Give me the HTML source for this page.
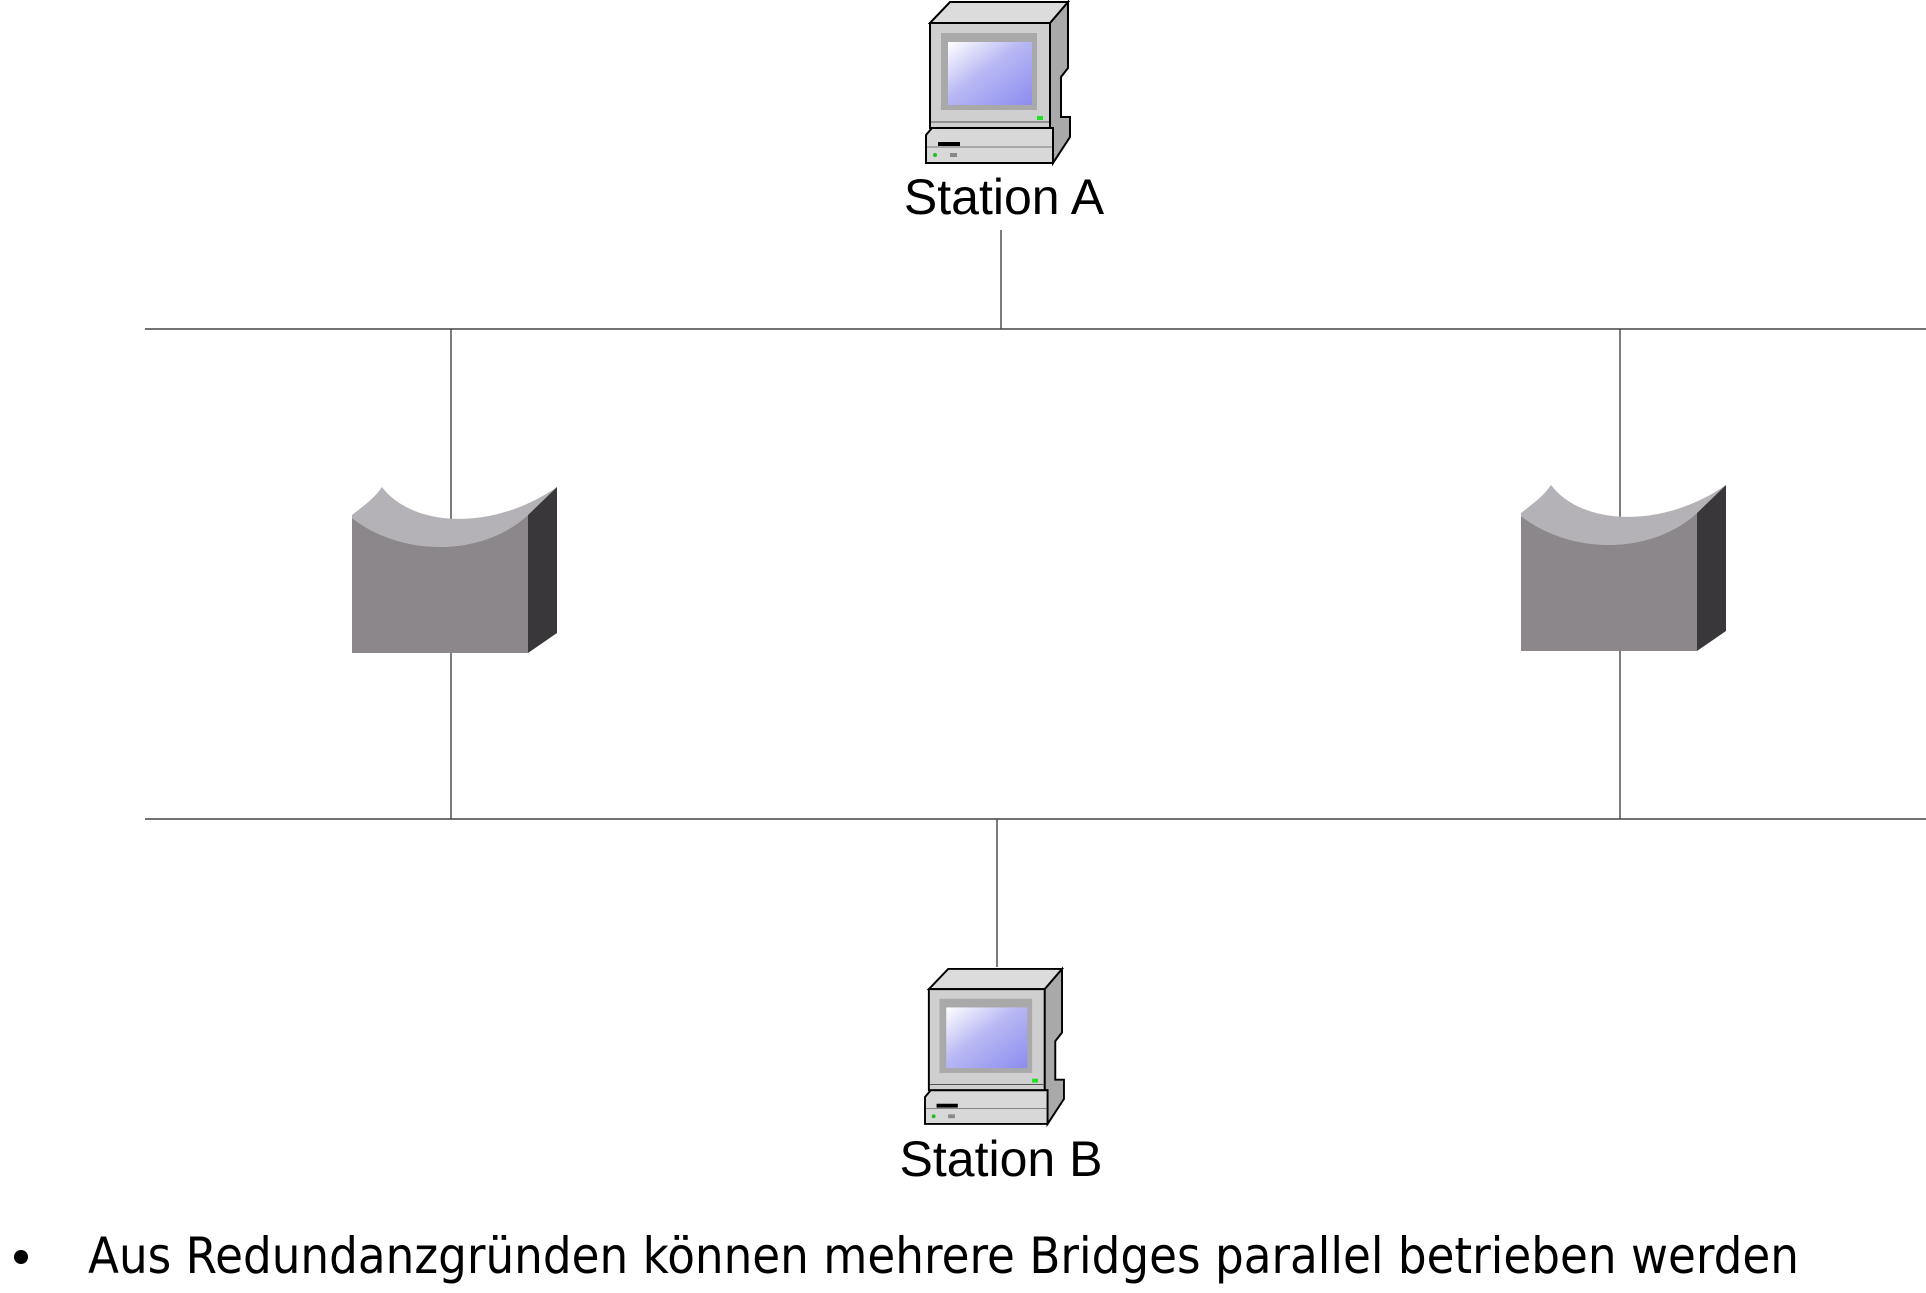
<!DOCTYPE html>
<html><head><meta charset="utf-8"><style>
html,body{margin:0;padding:0;background:#fff;}
svg{display:block;}
</style></head><body>
<svg width="1926" height="1293" viewBox="0 0 1926 1293" xmlns="http://www.w3.org/2000/svg">
<defs>
<linearGradient id="scr" x1="0" y1="0" x2="1" y2="1">
<stop offset="0" stop-color="#ffffff"/><stop offset="0.45" stop-color="#b8b8f4"/><stop offset="1" stop-color="#8c8cf0"/>
</linearGradient>
<g id="pc">
<path d="M124,23 L142,2 L142,68 L135,77 L135,117 L144,117 L144,137 L127,163 L127,128 L124,128 Z" fill="#a9a9a9" stroke="#000" stroke-width="2"/>
<path d="M4,23 L24,2 L142,2 L124,23 Z" fill="#dcdcdc" stroke="#000" stroke-width="2"/>
<rect x="4" y="23" width="120" height="105" fill="#cfcfcf" stroke="#000" stroke-width="2"/>
<rect x="15" y="33" width="96" height="77" fill="#a9a9a9"/>
<rect x="22" y="42" width="84" height="63" fill="url(#scr)"/>
<rect x="111" y="116" width="6" height="4" fill="#20e020"/>
<line x1="5" y1="122" x2="123" y2="122" stroke="#555" stroke-width="1"/>
<path d="M0,135 L6,128 L127,128 L127,163 L0,163 Z" fill="#d8d8d8" stroke="#000" stroke-width="2"/>
<rect x="12" y="142" width="22" height="4" fill="#000"/>
<line x1="1" y1="147" x2="126" y2="147" stroke="#777" stroke-width="1"/>
<circle cx="9" cy="155" r="2" fill="#20c020"/>
<rect x="24" y="153" width="7" height="4" fill="#888"/>
</g>
<g id="bridge">
<path d="M0,31 L0,28 C10,20 22,12 30,0 C60,40 140,45 205,0 L176,28 C130,70 50,70 0,31 Z" fill="#b4b2b6"/>
<path d="M0,31 C50,70 130,70 176,28 L176,166 L0,166 Z" fill="#8b878b"/>
<path d="M176,28 L205,0 L205,146 L176,166 Z" fill="#3a373b"/>
</g>
</defs>
<g stroke="#444" stroke-width="1.4" fill="none">
<line x1="145" y1="329" x2="1926" y2="329"/>
<line x1="145" y1="819" x2="1926" y2="819"/>
<line x1="1001" y1="230" x2="1001" y2="329"/>
<line x1="451" y1="329" x2="451" y2="520"/>
<line x1="451" y1="653" x2="451" y2="819"/>
<line x1="1620" y1="329" x2="1620" y2="518"/>
<line x1="1620" y1="651" x2="1620" y2="819"/>
<line x1="997" y1="819" x2="997" y2="967"/>
</g>
<use href="#pc" x="926" y="0"/>
<use href="#pc" transform="translate(925,967) scale(0.965,0.963)"/>
<use href="#bridge" x="352" y="487"/>
<use href="#bridge" x="1521" y="485"/>
<g font-family="Liberation Sans, sans-serif" font-size="50" fill="#000" text-anchor="middle">
<text x="1004" y="214">Station A</text>
<text x="1001" y="1176">Station B</text>
</g>
<circle cx="21" cy="1257" r="7" fill="#000"/>
<text x="88" y="1273" font-family="DejaVu Sans, sans-serif" font-size="50" textLength="1711" lengthAdjust="spacingAndGlyphs" fill="#000">Aus Redundanzgründen können mehrere Bridges parallel betrieben werden</text>
</svg>
</body></html>
